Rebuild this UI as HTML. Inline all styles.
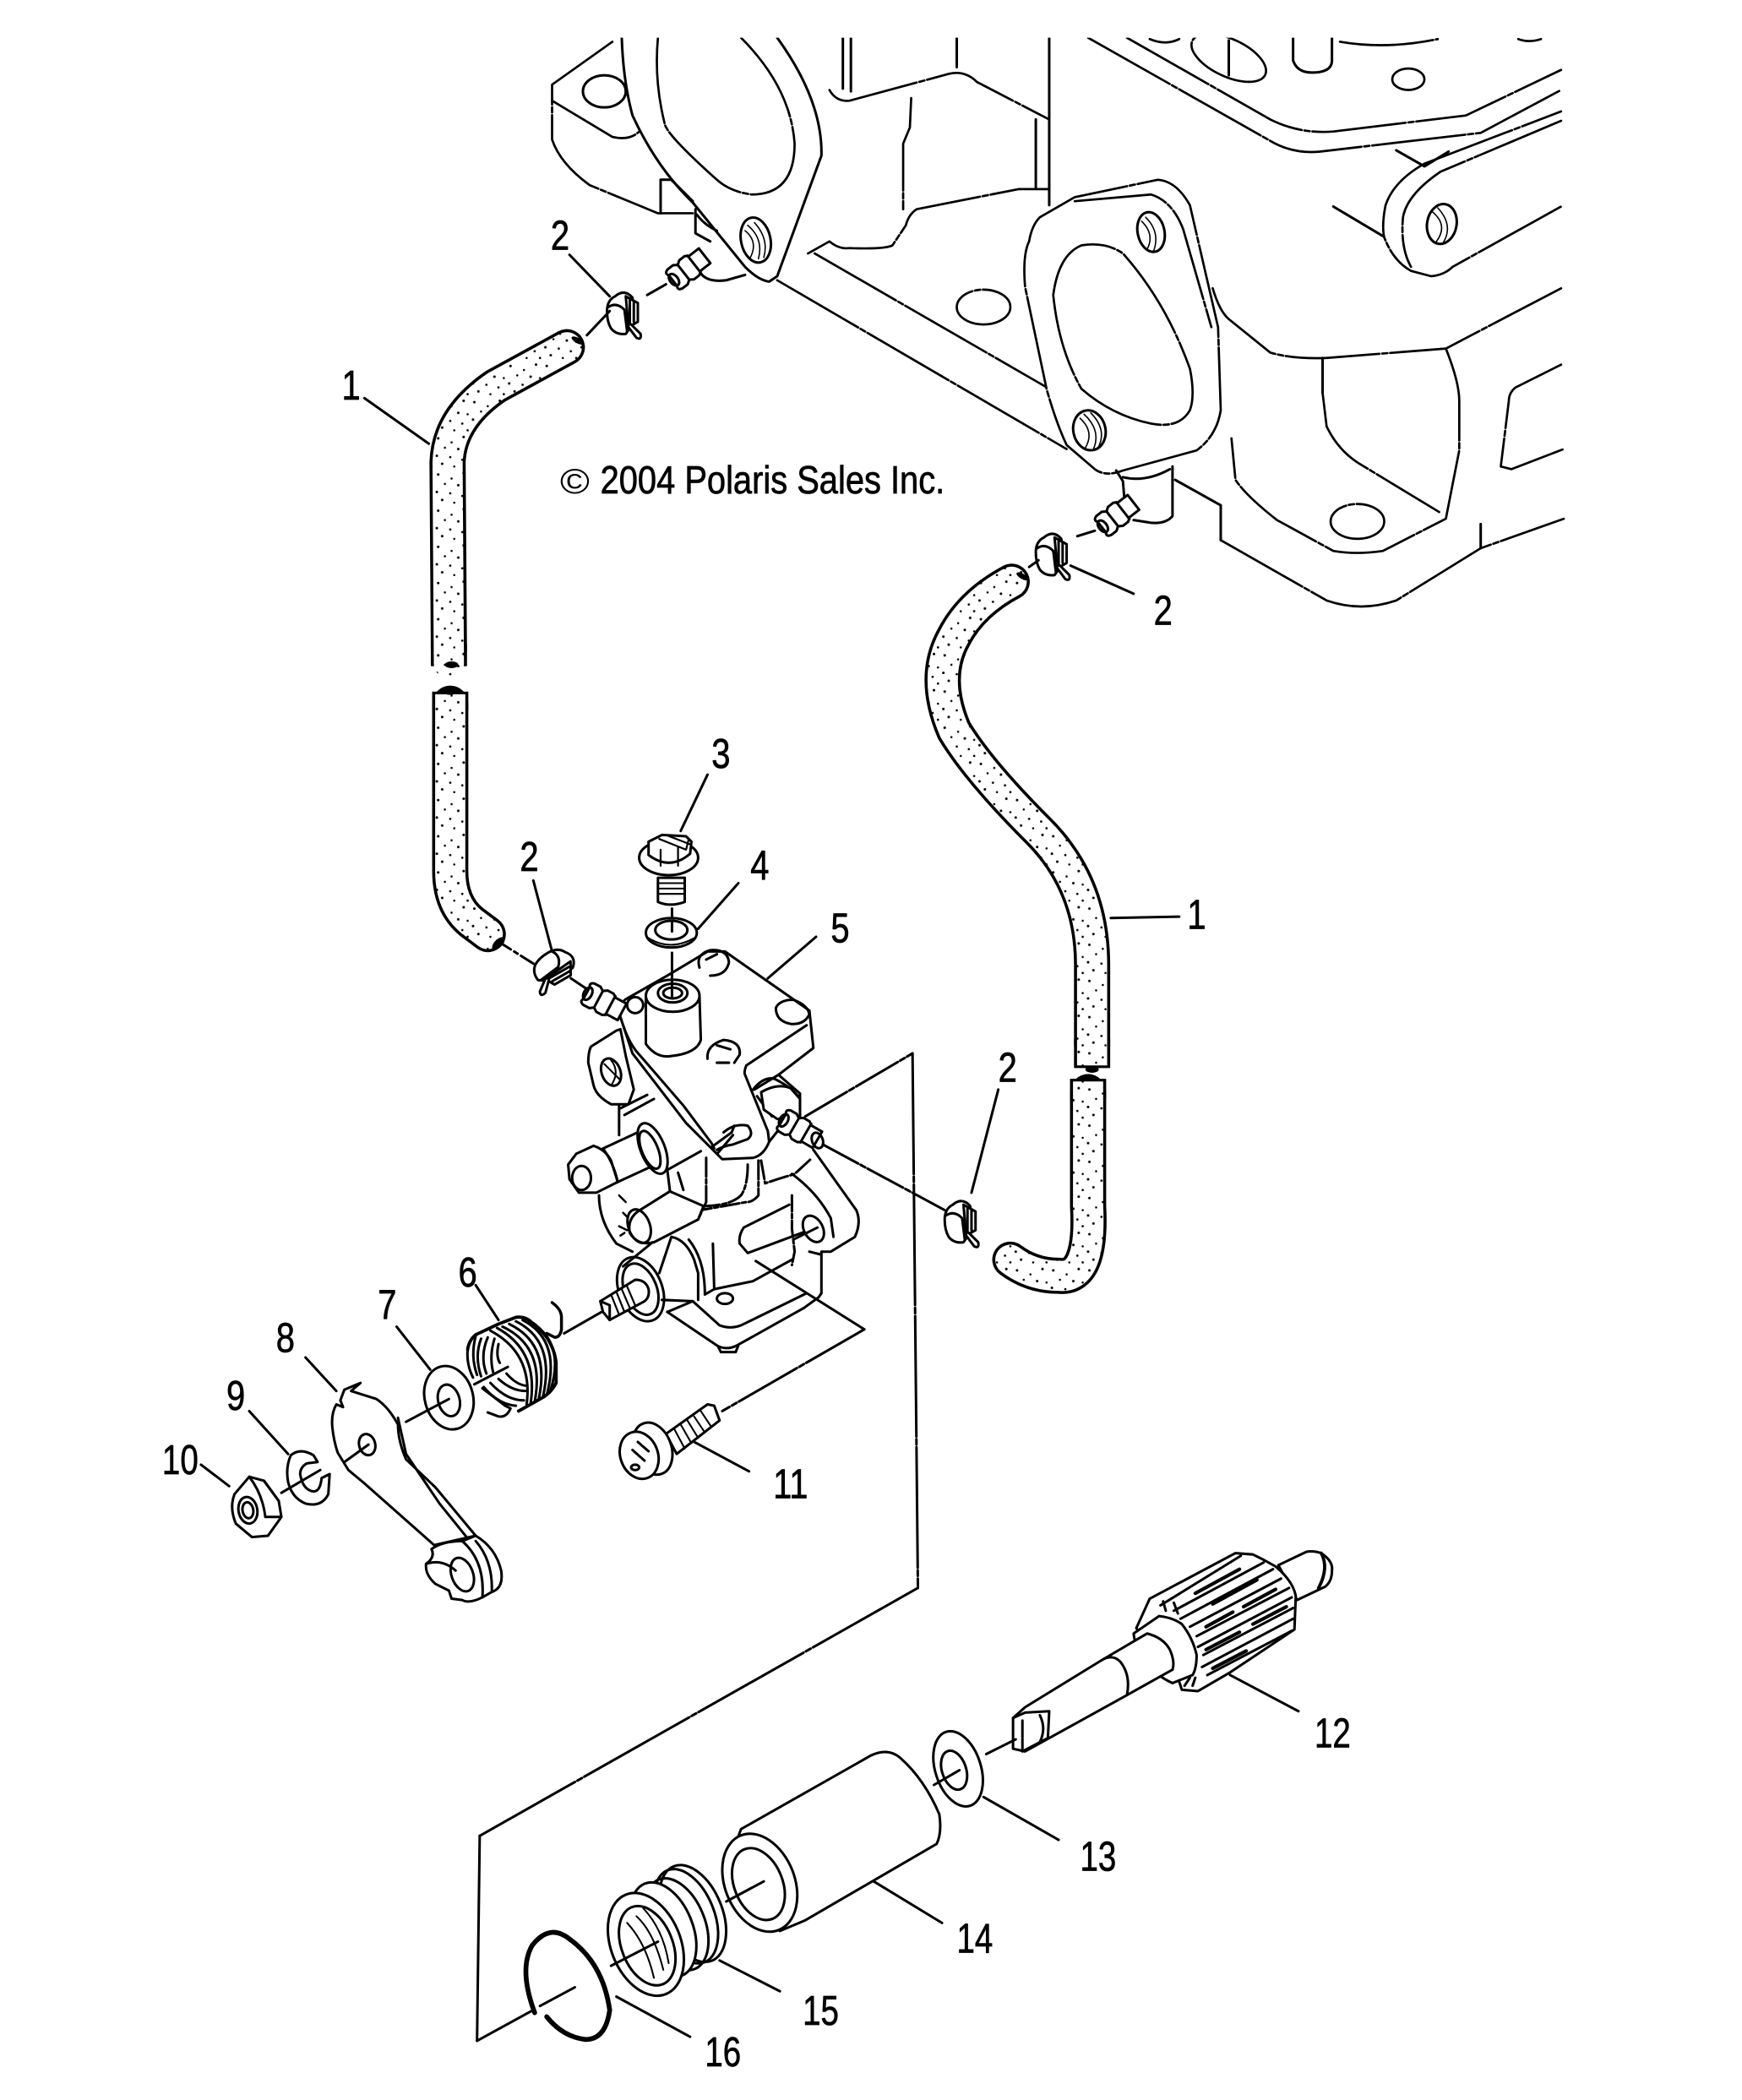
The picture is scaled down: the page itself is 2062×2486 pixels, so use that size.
<!DOCTYPE html>
<html><head><meta charset="utf-8"><style>
html,body{margin:0;padding:0;background:#fff}
svg{display:block}
.s{fill:none;stroke:#000;stroke-width:1.9;stroke-linejoin:round;stroke-linecap:round}
.s .w{fill:#fff}
.s .e{stroke-dasharray:70 2 4 2;stroke-width:1.7}
text{font-family:"Liberation Sans",sans-serif;fill:#000;stroke:#000;stroke-width:.45;font-size:31px}
</style></head><body>
<svg class="s" width="2062" height="2486" viewBox="0 0 1300 1567" xmlns="http://www.w3.org/2000/svg">
<defs>
<clipPath id="ec"><rect x="0" y="28" width="1168" height="600"/></clipPath>
<pattern id="st" width="27" height="27" patternUnits="userSpaceOnUse">
<rect width="27" height="27" fill="#fff" stroke="none"/>
<g fill="#000" stroke="none"><circle cx="3" cy="3" r=".95"/><circle cx="13" cy="6" r=".8"/><circle cx="22" cy="2" r=".95"/><circle cx="8" cy="10" r=".8"/><circle cx="18" cy="11" r=".95"/><circle cx="25" cy="12" r=".8"/><circle cx="2" cy="16" r=".95"/><circle cx="12" cy="17" r=".85"/><circle cx="21" cy="19" r=".85"/><circle cx="6" cy="22" r=".95"/><circle cx="15" cy="24" r=".8"/><circle cx="25" cy="24" r=".85"/></g>
</pattern>
<g id="clamp">
<path class="w" d="M-13,-2 Q-13,-10 -7,-13 Q0,-19 6,-12 L8,5 L1,15 Q-6,16 -10,11 Q-13,6 -13,-2Z"/>
<path d="M-12,-5 Q-6,-9 0,-3 L2,13"/>
<path class="w" d="M1,-13 L10,-8 L10,6 L3,10 Z"/>
<line x1="4" y1="-10" x2="4" y2="8"/><line x1="7" y1="-9" x2="7" y2="6"/>
<path class="w" d="M5,8 L12,15 Q13,20 9,18 L3,10"/>
</g>
<g id="nip">
<path class="w" d="M-15,-5 Q-17,-8 -13,-9 L-8,-9 L-5,-7 L-2,-9 L3,-9 L6,-7 L15,-7 L15,7 L6,7 L3,9 L-2,9 L-5,7 L-8,9 L-13,9 Q-17,8 -15,5Z"/>
<ellipse cx="-14" cy="0" rx="3" ry="5"/><line x1="-5" y1="-7" x2="-5" y2="7"/><line x1="5" y1="-8" x2="5" y2="8"/>
</g>
</defs>

<!-- ENGINE -->
<g clip-path="url(#ec)">
<path class="e" d="M457,31 L412,63 L412,104 Q418,122 440,138 L491,159 L517,159"/>
<path class="e" d="M412,75 L457,102 Q470,105 477,98"/>
<ellipse cx="451" cy="68" rx="16" ry="12"/>
<path d="M493,159 L493,134 L501,134 L517,150"/>
<path d="M464,28 Q465,60 472,86 Q490,125 517,151 L556,199 Q566,209 574,210 L580,206 Q595,165 613,116 Q614,75 580,28"/>
<path class="e" d="M553,28 Q590,65 593,107 Q593,145 561,145 Q545,143 535,134 Q497,100 496,92 Q488,60 491,28"/>
<ellipse cx="564" cy="179" rx="11" ry="17" transform="rotate(-12 564 179)"/>
<path stroke-width="1" d="M556,172 Q566,180 560,192M558,168 Q570,178 566,193M563,166 Q574,178 570,192"/>
<path d="M519,156 L519,174 L530,180 M522,202 Q526,211 542,209 L556,205 M520,160 Q526,168 535,172"/>
<use href="#nip" transform="translate(514,200) rotate(-38)"/>
<path class="e" d="M608,189 L783,290"/>
<path class="e" d="M580,209 L796,335"/>
<path class="e" d="M619,67 Q624,76 634,75 L708,55 Q720,52 729,61 L783,89"/>
<line x1="783" y1="28" x2="783" y2="153"/>
<line x1="773" y1="89" x2="773" y2="140"/>
<line x1="629" y1="28" x2="629" y2="66"/><line x1="635" y1="28" x2="635" y2="68"/>
<line x1="714" y1="28" x2="714" y2="50"/>
<path class="e" d="M680,73 L679,95 L674,107 L674,156"/>
<path class="e" d="M603,189 L619,180 Q626,186 634,185 Q660,186 666,183 L676,168 Q678,160 684,156 L760,141 L783,141"/>
<path class="e w" d="M776,162 L802,147 L864,134 Q878,135 888,153 L909,244 L911,306 Q908,325 893,336 L838,351 Q825,356 817,350 L796,332 Q788,315 781,290 L765,214 Q763,190 768,180 Q770,168 776,162Z"/>
<path class="e" d="M802,150 L859,145 Q875,150 883,171 L904,244"/>
<path class="e" d="M786,220 Q790,190 807,183 Q825,180 838,189 Q870,225 888,275 Q892,295 888,306 Q880,320 859,316 Q830,310 807,290 Q790,260 786,220Z"/>
<ellipse cx="859" cy="173" rx="10" ry="15" transform="rotate(-12 859 173)"/>
<ellipse cx="813" cy="321" rx="12" ry="15" transform="rotate(-12 813 321)"/>
<path stroke-width="1" d="M852,165 Q862,175 856,186M855,162 Q866,173 861,187M806,312 Q817,322 810,334M809,309 Q822,321 816,335M814,308 Q826,320 820,333"/>
<path class="e" d="M812,28 L948,105 Q965,115 985,113 L1105,99 L1165,67"/>
<path class="e" d="M841,28 L948,89 Q970,100 995,98 L1094,86 L1165,52"/>
<ellipse class="e" cx="917" cy="43" rx="30" ry="14" transform="rotate(25 917 43)"/>
<line x1="917" y1="30" x2="917" y2="56"/>
<path d="M965,28 L965,45 Q968,54 979,54 Q994,54 994,45 L994,28"/>
<ellipse class="e" cx="1051" cy="59" rx="12" ry="8"/>
<path class="e" d="M1000,31 Q1035,37 1073,29 M858,29 Q870,34 880,29 M1133,29 Q1141,32 1150,29"/>
<path d="M1042,112 L1063,124 L1081,113"/>
<path class="e" d="M1063,122 L1165,83"/>
<path class="e" d="M1063,122 Q1040,135 1034,153 Q1031,168 1033,177 Q1040,195 1053,202 L1068,206 Q1078,205 1084,199 L1165,154"/>
<path class="e" d="M1165,90 L1075,128 Q1050,145 1047,162 Q1045,185 1053,199"/>
<ellipse cx="1076" cy="167" rx="11" ry="15" transform="rotate(10 1076 167)"/>
<path stroke-width="1" d="M1069,158 Q1081,168 1072,180M1073,155 Q1085,168 1077,181"/>
<line x1="995" y1="154" x2="1032" y2="176"/>
<path class="e" d="M905,215 Q910,232 917,238 L948,263 Q965,268 990,267 L1079,260 L1165,215"/>
<path d="M987,267 L987,293"/>
<path class="e" d="M987,293 L990,318 Q998,335 1013,345 L1074,382"/>
<path class="e" d="M1079,260 Q1089,285 1089,299 L1089,336 L1079,387 L1032,411 Q1012,414 995,411 L953,388 Q930,370 922,358 L919,327"/>
<ellipse class="e" cx="1013" cy="389" rx="20" ry="13"/>
<path d="M911,377 L911,403"/>
<path class="e" d="M911,403 L990,448 Q1016,457 1042,448 L1105,409 L1167,387"/>
<line x1="1105" y1="391" x2="1105" y2="409"/>
<line x1="877" y1="358" x2="911" y2="377"/>
<path class="e" d="M1165,272 L1131,289 Q1126,293 1126,299 L1120,348 L1128,350 L1167,335"/>
<ellipse class="e" cx="734" cy="229" rx="20" ry="13"/>
<path d="M833,351 L838,359 L839,371 M875,348 L875,385 Q870,391 859,390 L846,388 M838,356 Q855,360 873,350"/>
<use href="#nip" transform="translate(834,384) rotate(-38)"/>
</g>

<!-- HOSES -->
<g stroke-linecap="butt">
<g stroke="#000" stroke-width="27">
<path stroke-linecap="round" d="M423,259 L370,288 Q335,312 334,345 L335,485"/>
<path d="M335,480 L335,497"/>
<path d="M336,516 L336,530"/>
<path stroke-linecap="round" d="M336,525 L336,650 Q336,675 352,688 L364,697"/>
<path stroke-linecap="round" d="M755,434 Q725,450 712,475 Q695,505 712,545 Q730,575 775,620 Q815,660 815,720 L815,780"/>
<path d="M815,775 L815,797"/>
<path d="M812,805 L812,820"/>
<path stroke-linecap="round" d="M812,815 L812,900 Q815,955 790,952 Q770,952 754,940"/>
</g>
<g stroke="url(#st)" stroke-width="22.5">
<path stroke-linecap="round" d="M423,259 L370,288 Q335,312 334,345 L335,495"/>
<path stroke-linecap="round" d="M336,650 Q336,675 352,688 L364,697"/>
<path d="M336,518 L336,650"/>
<path stroke-linecap="round" d="M755,434 Q725,450 712,475 Q695,505 712,545 Q730,575 775,620 Q815,660 815,720"/>
<path d="M815,720 L815,795"/>
<path d="M812,807 L812,900"/>
<path stroke-linecap="round" d="M812,900 Q815,955 790,952 Q770,952 754,940"/>
</g>
</g>
<g fill="#000" stroke="none">
<ellipse cx="337" cy="496" rx="5" ry="2.5"/><ellipse cx="336" cy="516" rx="5" ry="2.5"/>
<ellipse cx="372" cy="704" rx="3" ry="6" transform="rotate(45 372 704)"/>
<ellipse cx="431" cy="254" rx="2" ry="5" transform="rotate(-60 431 254)"/>
<ellipse cx="763" cy="430" rx="2" ry="5" transform="rotate(-60 763 430)"/>
<ellipse cx="815" cy="798" rx="5" ry="2.5"/><ellipse cx="812" cy="804" rx="5" ry="2.5"/>
</g>

<!-- CLAMPS -->
<use href="#clamp" transform="translate(466,234)"/>
<use href="#clamp" transform="translate(786,414)"/>
<use href="#clamp" transform="translate(414,723) rotate(60)"/>
<use href="#clamp" transform="translate(718,912)"/>
<line x1="438" y1="250" x2="455" y2="232"/><line x1="483" y1="220" x2="497" y2="212"/>
<line x1="768" y1="423" x2="775" y2="418"/><line x1="804" y1="400" x2="817" y2="396"/>
<line x1="371" y1="702" x2="398" y2="719" stroke-dasharray="12 3 3 3"/>
<line x1="426" y1="730" x2="438" y2="738"/>
<line x1="614" y1="854" x2="705" y2="903" stroke-dasharray="30 2 4 2"/>

<!-- PUMP back body -->
<path d="M462,824 L462,847"/>
<path d="M447,892 Q447,911 460,928 L472,934"/>
<path stroke-width="1.6" d="M462,892 L467,897 M465,905 L468,908 M462,915 L468,918 M463,922 L466,920"/>
<path d="M498,873 L523,859"/>
<path d="M498,873 L500,889 L476,904"/>
<path stroke-dasharray="14 2 3 2" d="M527,864 L527,897 L521,910"/>
<path stroke-dasharray="14 2 3 2" d="M503,895 Q510,900 523,900 Q545,900 553,892 Q558,885 558,869"/>
<path stroke-dasharray="14 2 3 2" d="M566,866 L566,892 Q562,897 557,897 L523,903"/>
<path stroke-dasharray="14 2 3 2" d="M568,866 L571,883 L580,880 L593,876 L605,865"/>
<path d="M506,875 L510,888"/>
<path class="w" d="M476,904 Q468,910 470,920 Q476,930 488,927 L521,910 L525,900 L500,889Z"/>
<ellipse cx="477" cy="915" rx="8" ry="13" transform="rotate(-20 477 915)"/>
<!-- lower right body -->
<path d="M501,923 Q512,925 518,940 L521,950 L521,970 M514,925 Q526,940 526,965 M532,928 L533,962 L526,966 M533,962 L562,956 L591,940"/>
<path d="M591,876 Q610,890 620,909 L622,923 M607,858 L639,903 Q643,912 638,923 L620,934 L613,934 L613,965"/>
<path stroke-dasharray="12 2 3 2" d="M591,892 L591,917 L593,934 L591,944 M604,934 L612,936"/>
<path d="M589,899 L555,916 Q551,922 552,928 L558,935 L609,916"/>
<ellipse class="w" cx="607" cy="917" rx="7" ry="10.5" transform="rotate(-28 607 917)"/>
<line x1="592" y1="925" x2="610" y2="916"/>
<!-- base -->
<path d="M517,971 L537,989 Q545,992 553,989 L602,965"/>
<path d="M498,979 L535,1004 Q542,1008 550,1004 L600,976 L611,968 L613,965"/>
<path d="M536,1005 L538,1009 L549,1009 L551,1004"/>
<ellipse cx="541" cy="969" rx="6" ry="4"/>
<path d="M517,971 L498,979"/>
<!-- shaft boss -->
<ellipse class="w" cx="478" cy="962" rx="16" ry="25" transform="rotate(-22 478 962)"/>
<ellipse cx="478" cy="962" rx="12" ry="20" transform="rotate(-22 478 962)"/>
<path d="M494,970 L517,971 M492,950 L501,923 M465,945 L487,927"/>
<path class="w" d="M448,971 L474,955 Q482,955 484,962 Q485,968 481,971 L455,985 L450,979Z"/>
<path stroke-width="1.4" d="M456,966 L462,981 M460,964 L466,979 M464,962 L470,976 M468,960 L474,974"/>
<path d="M448,971 L455,974 L455,985"/>
<!-- big spigot -->
<path class="w" d="M450,857 L478,844 L498,865 L461,882Z"/>
<ellipse class="w" cx="487" cy="857" rx="9" ry="20" transform="rotate(-22 487 857)"/>
<ellipse cx="485" cy="858" rx="6" ry="15" transform="rotate(-22 485 858)"/>
<path class="w" d="M424,869 L430,861 L443,855 Q452,858 456,866 L461,882 L445,890 L432,890 L425,880Z"/>
<ellipse cx="434" cy="879" rx="7" ry="9"/>
<path d="M450,857 Q458,868 461,882"/>
<!-- ear -->
<path class="w" d="M441,781 L460,769 L463,768 L467,788 L473,813 L469,824 L456,824 Q445,818 443,810 L439,793 Q439,785 441,781Z"/>
<ellipse cx="456" cy="800" rx="7" ry="10.5" transform="rotate(-20 456 800)"/>
<path stroke-width="1.3" d="M456,791 Q463,800 456,810 M451,794 L462,805"/>
<path d="M463,827 L483,817 M466,832 L488,820"/>
<!-- plate -->
<path class="w" d="M468,745 L498,728 L528,710 L541,710 L604,754 L607,782 L581,802 L597,816 L597,833 L585,838 L574,852 Q570,862 562,864 L539,865 L531,857 L512,838 L472,786 L463,759 Q462,748 468,745Z"/>
<path d="M557,795 L602,765"/>
<path d="M557,795 Q555,800 556,802 L573,844 L574,852"/>
<path d="M581,802 L563,813 M562,813 Q570,803 578,805 Q592,812 597,820 M565,818 L576,833"/>
<path d="M465,765 Q470,780 478,788 L510,825 L531,853 L533,857"/>
<path d="M540,845 Q548,838 558,840 Q563,846 558,850 L547,854 Q540,855 535,858"/>
<path d="M531,856 L546,845 L548,840 M536,860 L547,847"/>
<!-- boss on plate -->
<path class="w" d="M482,745 L482,779 Q490,790 501,788 Q520,786 523,776 L522,743 Z"/>
<ellipse class="w" cx="502" cy="743" rx="20" ry="12"/>
<ellipse cx="502" cy="741" rx="11" ry="7"/>
<ellipse cx="502" cy="741" rx="7" ry="4"/>
<!-- screws -->
<path d="M522,722 Q519,712 530,709 Q543,708 544,718 Q542,728 530,728"/><path d="M527,716 L535,712"/>
<path d="M579,752 Q582,746 592,746 Q603,750 604,757 Q600,765 590,764 Q579,762 579,752Z"/>
<path d="M528,790 Q527,780 540,776 Q553,777 552,787 L548,793 M535,793 L544,793 M535,780 L545,783"/>
<circle cx="474" cy="750" r="6"/>
<!-- nipples pump -->
<use href="#nip" transform="translate(451,748) rotate(28)"/>
<path class="w" d="M568,815 Q580,808 590,812 L597,820 L597,833 L580,835 L570,828Z"/>
<use href="#nip" transform="translate(597,843) rotate(30)"/>
<ellipse cx="610" cy="851" rx="4" ry="6" transform="rotate(-20 610 851)"/>
<line x1="601" y1="833" x2="681" y2="786" stroke-dasharray="36 2 4 2"/>
<line x1="681" y1="786" x2="685" y2="1185" stroke-dasharray="90 2 4 2"/>
<path d="M685,1185 L358,1370" stroke-dasharray="90 2 4 2"/>
<line x1="358" y1="1370" x2="356" y2="1523"/>
<line x1="356" y1="1523" x2="398" y2="1500"/>
<path d="M403,1497 L429,1483"/>
<line x1="564" y1="941" x2="645" y2="992"/>
<line x1="645" y1="992" x2="539" y2="1053" stroke-dasharray="50 2 4 2"/>
<line x1="421" y1="995" x2="449" y2="979"/>

<!-- bolt 3 -->
<path class="w" d="M491,655 L491,673 Q500,677 511,673 L511,655Z"/>
<path stroke-width="1.3" d="M491,659 L511,659 M491,663 L511,663 M491,667 L511,667"/>
<ellipse class="w" cx="499" cy="640" rx="22" ry="13"/>
<path class="w" d="M484,638 L484,628 L494,623 L512,624 L516,628 L515,637 Q500,650 484,638Z"/>
<path stroke-width="1.4" d="M492,626 L512,634 L514,626 M497,623 L515,630 M493,634 L493,646 M506,632 L506,646"/>
<line x1="501.5" y1="678" x2="501.5" y2="696"/>
<ellipse class="w" cx="501" cy="696" rx="19" ry="11"/><ellipse cx="501" cy="694" rx="12" ry="7"/>
<path stroke-width="1.3" d="M484,700 Q500,710 518,700"/>
<line x1="501.5" y1="688" x2="501.5" y2="695"/>
<line x1="501.5" y1="711" x2="501.5" y2="744"/>

<!-- spring 6 -->
<path d="M349,1007 Q350,1000 355,996 L372,988 L385,983 Q392,982 397,987 Q402,990 408,998 Q414,1007 415,1017 L415,1032 Q411,1040 403,1044 L387,1053" stroke-width="2.4"/>
<path d="M349,1007 Q348,1018 353,1028"/>
<path d="M366,993 Q398,1010 393,1048 M371,991 Q402,1008 396,1047 M375,990 Q407,1005 399,1046 M380,988 Q411,1003 402,1044 M385,986 Q415,1001 405,1043 M390,985 Q419,1000 408,1041 M395,986 Q422,1001 411,1037"/>
<path d="M355,997 Q351,1012 356,1026 M359,999 Q354,1012 359,1027 M364,998 Q358,1012 363,1025 M369,999 Q365,1012 368,1024 M372,1003 Q370,1012 373,1017"/>
<path d="M361,1035 Q372,1048 385,1049 M366,1032 Q378,1045 391,1045 M372,1029 Q382,1038 392,1038 M378,1025 Q385,1033 392,1034"/>
<path d="M360,1036 L377,1049 L381,1051 Q378,1058 372,1057 L364,1054"/>
<line x1="354" y1="1033" x2="379" y2="1020"/>
<path d="M412,972 Q419,977 419,983 L419,992 Q418,998 414,998 L408,995" stroke-width="2.2"/>
<!-- washer 7 -->
<ellipse class="w" cx="335" cy="1043" rx="18" ry="24" transform="rotate(-15 335 1043)"/>
<ellipse cx="335" cy="1045" rx="8" ry="12" transform="rotate(-15 335 1045)"/>
<line x1="303" y1="1061" x2="335" y2="1044"/>
<!-- lever 8 -->
<path class="w" d="M251,1048 Q247,1055 248,1065 Q249,1075 252,1084 L260,1097 L272,1107 L324,1153 L355,1146 L325,1110 L303,1089 Q297,1075 297,1063 Q290,1050 281,1044 L262,1038 L269,1032 L257,1037 L254,1045 L256,1050Z"/>
<path d="M297,1058 L303,1085 L328,1122 L349,1148"/>
<ellipse cx="274" cy="1078" rx="6" ry="8" transform="rotate(-15 274 1078)"/>
<path class="w" d="M355,1146 Q370,1155 374,1172 Q376,1185 367,1188 L360,1192 Q350,1197 345,1194 L337,1193 L335,1187 L325,1182 Q317,1175 318,1167 Q325,1162 322,1156 Q330,1150 345,1150 Z"/>
<path d="M318,1167 Q330,1163 340,1172 M345,1150 Q362,1165 360,1192 M355,1150 Q368,1165 367,1188"/>
<ellipse cx="345" cy="1175" rx="8" ry="13" transform="rotate(-20 345 1175)"/>
<!-- e clip 9 -->
<path class="w" d="M237,1091 L234,1086 Q224,1080 217,1086 Q213,1095 215,1106 Q218,1118 228,1122 Q240,1125 245,1115 L246,1100 L240,1103 Q239,1113 234,1113 Q226,1112 224,1100 Q224,1095 229,1092 Z"/>
<line x1="210" y1="1114" x2="239" y2="1097"/>
<line x1="257" y1="1091" x2="275" y2="1078"/>
<!-- nut 10 -->
<path class="w" d="M175,1115 L186,1102 L197,1105 L208,1120 L210,1132 L200,1146 L188,1147 L176,1137 Q171,1125 175,1115Z"/>
<path d="M186,1102 Q196,1115 198,1132 L210,1132 M197,1105 L208,1120"/>
<ellipse cx="185" cy="1127" rx="7" ry="10" transform="rotate(-10 185 1127)"/>
<ellipse cx="185" cy="1127" rx="4" ry="6" transform="rotate(-10 185 1127)"/>
<!-- screw 11 -->
<path class="w" d="M497,1070 L528,1048 L533,1049 L537,1060 L505,1085 Z"/>
<path stroke-width="1.3" d="M503,1066 L511,1081 M508,1063 L516,1077 M513,1060 L521,1073 M518,1057 L526,1069 M523,1053 L531,1065"/>
<ellipse class="w" cx="487" cy="1081" rx="14" ry="20" transform="rotate(-20 487 1081)"/>
<ellipse class="w" cx="477" cy="1086" rx="14" ry="18" transform="rotate(-20 477 1086)"/>
<path d="M472,1082 L481,1090 M476,1076 L484,1083"/>
<ellipse cx="474" cy="1095" rx="3" ry="2"/>

<!-- shaft 12 -->
<path class="w" d="M954,1168 L975,1158 Q980,1157 986,1159 Q995,1165 994,1172 Q994,1180 989,1184 L968,1194Z"/>
<path d="M986,1159 Q992,1170 984,1185" stroke-width="2.4"/>
<path class="w" d="M858,1193 L922,1159 L935,1160 L943,1164 L952,1169 Q965,1180 967,1191 L966,1216 L918,1248 L894,1262 L882,1261 L880,1255 L848,1215Z"/>
<path d="M866,1198 L926,1161 M876,1202 L943,1166 M881,1208 L950,1171 M888,1214 L956,1178 M893,1221 L962,1185 M894,1229 L964,1192 M898,1235 L965,1200 M897,1244 L965,1208 M901,1250 L964,1217"/>
<path stroke-width="2.6" d="M892,1189 L925,1171 M905,1197 L938,1179 M900,1214 L920,1203 M928,1199 L952,1186 M900,1231 L925,1218 M935,1212 L960,1199 M905,1245 L930,1232"/>
<path d="M868,1195 L870,1202 M876,1196 L879,1204 M884,1258 L888,1252 M890,1258 L892,1252"/>
<path class="w" d="M846,1219 L865,1206 Q875,1207 882,1212 Q890,1222 893,1235 Q893,1245 890,1250 L875,1256 Q862,1250 855,1240 Q847,1230 846,1219Z"/>
<path class="w" d="M765,1274 L822,1239 L856,1219 Q868,1222 873,1231 Q877,1240 875,1246 L841,1265 L765,1307 L756,1305 L756,1282Z"/>
<path d="M822,1239 Q830,1234 836,1240 Q844,1250 841,1265 M763,1284 L763,1307 M756,1282 L765,1278 L783,1277 L782,1297 L763,1307 M776,1280 Q781,1290 776,1300"/>
<line x1="736" y1="1309" x2="758" y2="1298"/>
<!-- washer 13 -->
<ellipse class="w" cx="715" cy="1320" rx="17" ry="29" transform="rotate(-18 715 1320)"/>
<ellipse cx="712" cy="1321" rx="9" ry="15" transform="rotate(-18 712 1321)"/>
<line x1="697" y1="1332" x2="716" y2="1321"/>
<!-- tube 14 -->
<path class="w" d="M553,1365 L650,1310 Q663,1304 672,1312 Q690,1328 701,1354 Q703,1368 699,1376 L601,1433 L582,1441 L540,1400 Z"/>
<ellipse class="w" cx="567" cy="1405" rx="26" ry="38" transform="rotate(-22 567 1405)"/>
<ellipse cx="566" cy="1406" rx="18" ry="28" transform="rotate(-22 566 1406)"/>
<line x1="542" y1="1419" x2="570" y2="1404"/>
<!-- 15 -->
<ellipse class="w" cx="517" cy="1428" rx="22" ry="38" transform="rotate(-22 517 1428)"/>
<ellipse cx="512" cy="1430" rx="21" ry="37" transform="rotate(-22 512 1430)"/>
<ellipse cx="505" cy="1436" rx="21" ry="36" transform="rotate(-22 505 1436)"/>
<ellipse class="w" cx="495" cy="1440" rx="22" ry="37" transform="rotate(-22 495 1440)"/>
<ellipse class="w" cx="482" cy="1451" rx="26" ry="40" transform="rotate(-22 482 1451)"/>
<ellipse cx="483" cy="1452" rx="19" ry="31" transform="rotate(-22 483 1452)"/>
<path stroke-width="1.3" d="M475,1430 Q488,1442 495,1470 M468,1435 Q482,1450 488,1476 M480,1424 Q495,1440 499,1465"/>
<line x1="456" y1="1467" x2="491" y2="1449"/>
<!-- ring 16 -->
<path d="M399,1502 Q387,1470 397,1452 Q410,1435 425,1447 Q450,1465 455,1500 Q452,1522 437,1522 Q420,1520 408,1505" stroke-width="3.6"/>

<!-- LEADERS -->
<line x1="425" y1="190" x2="455" y2="221"/>
<line x1="272" y1="297" x2="320" y2="331"/>
<line x1="846" y1="443" x2="799" y2="422"/>
<line x1="528" y1="578" x2="508" y2="620"/>
<line x1="398" y1="657" x2="412" y2="710"/>
<line x1="551" y1="659" x2="521" y2="693"/>
<line x1="609" y1="699" x2="573" y2="730"/>
<line x1="880" y1="684" x2="829" y2="685"/>
<line x1="745" y1="813" x2="725" y2="890"/>
<line x1="355" y1="959" x2="372" y2="985"/>
<line x1="296" y1="990" x2="321" y2="1022"/>
<line x1="228" y1="1013" x2="251" y2="1038"/>
<line x1="186" y1="1053" x2="215" y2="1085"/>
<line x1="150" y1="1093" x2="171" y2="1109"/>
<line x1="518" y1="1076" x2="559" y2="1098"/>
<line x1="918" y1="1250" x2="969" y2="1277"/>
<line x1="734" y1="1341" x2="790" y2="1373"/>
<line x1="652" y1="1404" x2="703" y2="1435"/>
<line x1="537" y1="1463" x2="582" y2="1486"/>
<line x1="460" y1="1490" x2="515" y2="1520"/>

<!-- LABELS -->
<text x="411" y="186" textLength="14" lengthAdjust="spacingAndGlyphs">2</text>
<text x="255" y="298" textLength="14" lengthAdjust="spacingAndGlyphs">1</text>
<text x="861" y="466" textLength="14" lengthAdjust="spacingAndGlyphs">2</text>
<text x="531" y="573" textLength="14" lengthAdjust="spacingAndGlyphs">3</text>
<text x="388" y="650" textLength="14" lengthAdjust="spacingAndGlyphs">2</text>
<text x="560" y="656" textLength="14" lengthAdjust="spacingAndGlyphs">4</text>
<text x="620" y="703" textLength="14" lengthAdjust="spacingAndGlyphs">5</text>
<text x="886" y="693" textLength="14" lengthAdjust="spacingAndGlyphs">1</text>
<text x="745" y="807" textLength="14" lengthAdjust="spacingAndGlyphs">2</text>
<text x="342" y="960" textLength="14" lengthAdjust="spacingAndGlyphs">6</text>
<text x="282" y="984" textLength="14" lengthAdjust="spacingAndGlyphs">7</text>
<text x="206" y="1009" textLength="14" lengthAdjust="spacingAndGlyphs">8</text>
<text x="169" y="1052" textLength="14" lengthAdjust="spacingAndGlyphs">9</text>
<text x="121" y="1100" textLength="27" lengthAdjust="spacingAndGlyphs">10</text>
<text x="577" y="1118" textLength="26" lengthAdjust="spacingAndGlyphs">11</text>
<text x="981" y="1304" textLength="27" lengthAdjust="spacingAndGlyphs">12</text>
<text x="806" y="1396" textLength="27" lengthAdjust="spacingAndGlyphs">13</text>
<text x="714" y="1457" textLength="27" lengthAdjust="spacingAndGlyphs">14</text>
<text x="599" y="1511" textLength="27" lengthAdjust="spacingAndGlyphs">15</text>
<text x="526" y="1542" textLength="27" lengthAdjust="spacingAndGlyphs">16</text>
<text x="418" y="368" textLength="22" lengthAdjust="spacingAndGlyphs" style="font-size:26px;stroke-width:0">©</text>
<text x="448" y="368" textLength="257" lengthAdjust="spacingAndGlyphs" style="font-size:29px">2004 Polaris Sales Inc.</text>
</svg>
</body></html>
